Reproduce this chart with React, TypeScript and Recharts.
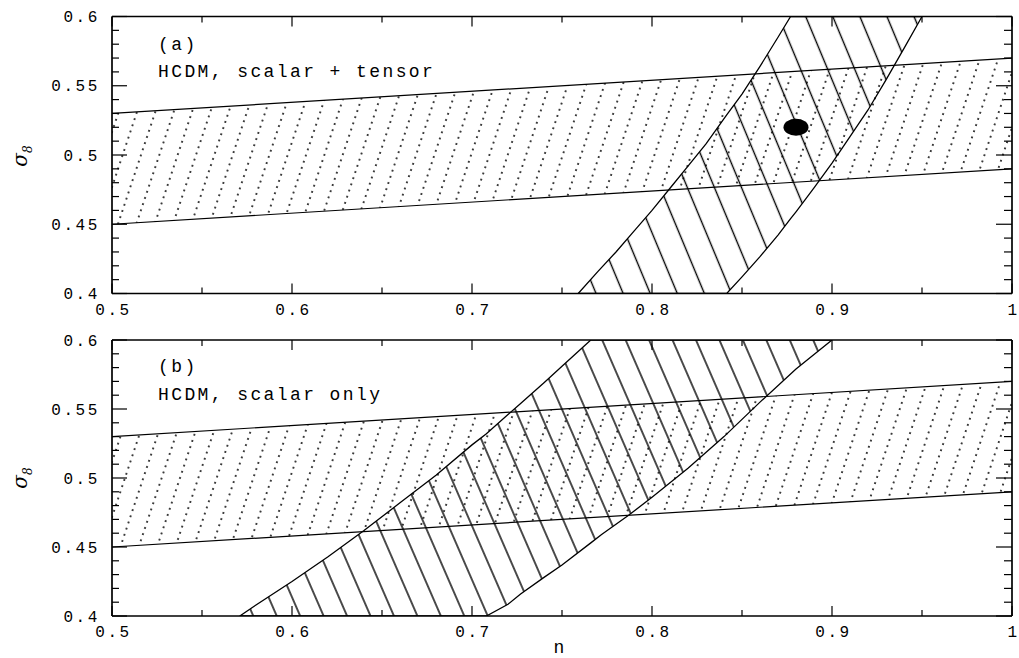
import React from 'react';
import { ComposedChart, Area, Scatter, XAxis, YAxis } from 'recharts';

// axis ticks
const xMajorTicks = [0.5, 0.6, 0.7, 0.8, 0.9, 1];
const xMinorTicks = [0.55, 0.65, 0.75, 0.85, 0.95];
const yMajorTicks = [0.4, 0.45, 0.5, 0.55, 0.6];
const yMinorTicks = [
  0.41, 0.42, 0.43, 0.44, 0.46, 0.47, 0.48, 0.49,
  0.51, 0.52, 0.53, 0.54, 0.56, 0.57, 0.58, 0.59,
];

// dotted band (same in both panels)
const dottedN = [0.5, 1];
const dottedLow = [0.45, 0.49];
const dottedHigh = [0.53, 0.57];

// (a) scalar + tensor band
const tensorN = [
  0.759, 0.77, 0.78, 0.79, 0.8, 0.81, 0.82, 0.83, 0.8415, 0.85, 0.86,
  0.87, 0.877, 0.88, 0.89, 0.9, 0.91, 0.92, 0.93, 0.94, 0.95,
];
const tensorLow = [
  0.4, 0.4, 0.4, 0.4, 0.4, 0.4, 0.4, 0.4, 0.4, 0.412, 0.4266,
  0.4422, 0.454, 0.459, 0.4762, 0.4942, 0.5132, 0.5325, 0.5542, 0.577, 0.6,
];
const tensorHigh = [
  0.4, 0.416, 0.43, 0.445, 0.46, 0.476, 0.492, 0.508, 0.529, 0.544, 0.564,
  0.585, 0.6, 0.6, 0.6, 0.6, 0.6, 0.6, 0.6, 0.6, 0.6,
];
const bestN = [0.88];
const bestSigma = [0.52];

// (b) scalar only band
const scalarN = [
  0.571, 0.58, 0.6, 0.62, 0.64, 0.66, 0.68, 0.7, 0.708, 0.72, 0.727,
  0.74, 0.75, 0.766, 0.772, 0.787, 0.8, 0.82, 0.84, 0.86, 0.88, 0.9,
];
const scalarLow = [
  0.4, 0.4, 0.4, 0.4, 0.4, 0.4, 0.4, 0.4, 0.4, 0.4085, 0.416,
  0.428, 0.437, 0.453, 0.459, 0.473, 0.486, 0.507, 0.53, 0.555, 0.579, 0.6,
];
const scalarHigh = [
  0.4, 0.408, 0.425, 0.443, 0.462, 0.482, 0.502, 0.524, 0.532, 0.546, 0.554,
  0.569, 0.581, 0.6, 0.6, 0.6, 0.6, 0.6, 0.6, 0.6, 0.6, 0.6,
];

const FONT = '"Liberation Mono", "DejaVu Sans Mono", monospace';
const isIn = (list: number[], v: number) => list.some((t) => Math.abs(t - v) < 1e-6);

const renderTick = (side: string) => (props: any) => {
  const { x, y, payload } = props;
  const v = payload.value;
  let line;
  let label = null;
  if (side === 'bottom' || side === 'top') {
    const len = isIn(xMajorTicks, v) ? 10 : 6;
    const dir = side === 'bottom' ? -1 : 1;
    line = <line x1={x} y1={y} x2={x} y2={y + dir * len} stroke="#000" strokeWidth={1.2} />;
    if (side === 'bottom' && isIn(xMajorTicks, v)) {
      label = (
        <text x={x + 1.5} y={y + 21} textAnchor="middle" fontFamily={FONT} fontSize={16}
          style={{ letterSpacing: 2.6 }} fill="#000">{String(v)}</text>
      );
    }
  } else {
    const major = isIn(yMajorTicks, v);
    const len = side === 'left' ? (major ? 15 : 7) : (major ? 16 : 8);
    const dir = side === 'left' ? 1 : -1;
    line = <line x1={x} y1={y} x2={x + dir * len} y2={y} stroke="#000" strokeWidth={1.2} />;
    if (side === 'left' && major) {
      label = (
        <text x={x - 12} y={y + 5.5} textAnchor="end" fontFamily={FONT} fontSize={16}
          style={{ letterSpacing: 2.6 }} fill="#000">{String(v)}</text>
      );
    }
  }
  return <g>{line}{label}</g>;
};

const xTicks = [...xMajorTicks, ...xMinorTicks];
const yTicks = [...yMajorTicks, ...yMinorTicks];
const frame = { stroke: '#000', strokeWidth: 1.7 };

function Panel({ id, height, margin, bandN, bandLow, bandHigh, hatchGap, hatchAngle, showBest }: any) {
  const dotted = dottedN.map((n, i) => ({ n, range: [dottedLow[i], dottedHigh[i]] }));
  const band = bandN.map((n: number, i: number) => ({ n, range: [bandLow[i], bandHigh[i]] }));
  const best = bestN.map((n, i) => ({ n, s: bestSigma[i] }));

  return (
    <ComposedChart width={1019} height={height} margin={margin}>
      <defs>
        <pattern id={`hatch-${id}`} patternUnits="userSpaceOnUse" width={10} height={hatchGap}
          patternTransform={`rotate(${hatchAngle})`}>
          <line x1={0} y1={hatchGap / 2} x2={10} y2={hatchGap / 2} stroke="#000" strokeWidth={1.4} />
        </pattern>
        <pattern id={`dots-${id}`} patternUnits="userSpaceOnUse" width={6.5} height={17.4}
          patternTransform="rotate(-71.6)">
          <line x1={0} y1={8.7} x2={1.9} y2={8.7} stroke="#000" strokeWidth={1.5} />
        </pattern>
      </defs>
      <XAxis xAxisId="b" orientation="bottom" type="number" dataKey="n" domain={[0.5, 1]}
        allowDataOverflow ticks={xTicks} interval={0} height={1} tickLine={false}
        tickSize={0} tickMargin={0} axisLine={frame} tick={renderTick('bottom')} />
      <XAxis xAxisId="t" orientation="top" type="number" dataKey="n" domain={[0.5, 1]}
        allowDataOverflow ticks={xTicks} interval={0} height={1} tickLine={false}
        tickSize={0} tickMargin={0} axisLine={frame} tick={renderTick('top')} />
      <YAxis yAxisId="l" orientation="left" type="number" dataKey="s" domain={[0.4, 0.6]}
        allowDataOverflow ticks={yTicks} interval={0} width={1} tickLine={false}
        tickSize={0} tickMargin={0} axisLine={frame} tick={renderTick('left')} />
      <YAxis yAxisId="r" orientation="right" type="number" dataKey="s" domain={[0.4, 0.6]}
        allowDataOverflow ticks={yTicks} interval={0} width={1} tickLine={false}
        tickSize={0} tickMargin={0} axisLine={frame} tick={renderTick('right')} />
      <Area xAxisId="b" yAxisId="l" data={dotted} dataKey="range" type="linear"
        stroke="#000" strokeWidth={1.2} fill={`url(#dots-${id})`} fillOpacity={1}
        dot={false} activeDot={false} isAnimationActive={false} />
      <Area xAxisId="b" yAxisId="l" data={band} dataKey="range" type="linear"
        stroke="#000" strokeWidth={1.3} fill={`url(#hatch-${id})`} fillOpacity={1}
        dot={false} activeDot={false} isAnimationActive={false} />
      {showBest && (
        <Scatter xAxisId="b" yAxisId="l" data={best} dataKey="s" isAnimationActive={false}
          shape={(p: any) => <ellipse cx={p.cx} cy={p.cy} rx={12.5} ry={8.5} fill="#000" />} />
      )}
    </ComposedChart>
  );
}

export default function App() {
  return (
    <div style={{ position: 'absolute', left: 0, top: 0, width: 1019, height: 658, background: '#fff' }}>
      <div style={{ position: 'absolute', left: 0, top: 0 }}>
        <Panel id="a" height={330} margin={{ top: 15.5, right: 6, bottom: 35.5, left: 111 }}
          bandN={tensorN} bandLow={tensorLow} bandHigh={tensorHigh}
          hatchGap={25} hatchAngle={67.4} showBest />
      </div>
      <div style={{ position: 'absolute', left: 0, top: 330 }}>
        <Panel id="b" height={328} margin={{ top: 9, right: 6, bottom: 41, left: 111 }}
          bandN={scalarN} bandLow={scalarLow} bandHigh={scalarHigh}
          hatchGap={21.5} hatchAngle={66.5} showBest={false} />
      </div>
      <svg width={1019} height={658} style={{ position: 'absolute', left: 0, top: 0, pointerEvents: 'none' }}>
        <g fontFamily={FONT} fontSize={18} fill="#000" style={{ letterSpacing: 2.4 }}>
          <text x={158} y={50}>(a)</text>
          <text x={158} y={77}>HCDM, scalar + tensor</text>
          <text x={158} y={372}>(b)</text>
          <text x={158} y={400}>HCDM, scalar only</text>
          <text x={560} y={653} textAnchor="middle">n</text>
        </g>
        <text transform="translate(27,156) rotate(-90)" textAnchor="middle" fontFamily="DejaVu Serif"
          fontStyle="italic" fontSize={20} fill="#000">σ<tspan fontSize={12} dy={5}>8</tspan></text>
        <text transform="translate(27,478) rotate(-90)" textAnchor="middle" fontFamily="DejaVu Serif"
          fontStyle="italic" fontSize={20} fill="#000">σ<tspan fontSize={12} dy={5}>8</tspan></text>
      </svg>
    </div>
  );
}
